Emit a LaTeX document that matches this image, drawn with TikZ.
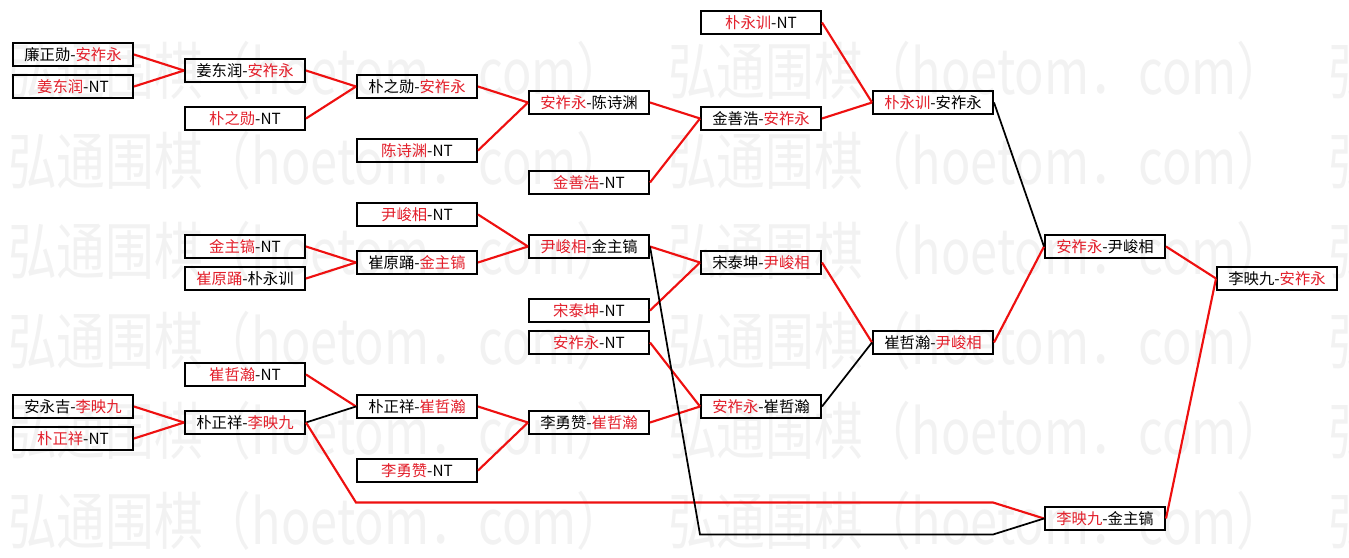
\documentclass[tikz,border=0pt]{standalone}
\usepackage{fontspec}
\setmainfont{Noto Sans CJK SC}
\definecolor{namered}{RGB}{226,30,42}
\definecolor{linkred}{RGB}{238,16,16}
\newcommand{\rd}[1]{\textcolor{namered}{#1}}

\begin{document}
\begin{tikzpicture}[x=0.75pt, y=-0.75pt,
  every node/.style = {shape=rectangle, draw, line width=1.5pt,
    minimum width=90pt, minimum height=17.5pt, inner sep=0pt,
    font=\fontsize{11.5}{13}\selectfont},
  wmark/.style = {draw=none, text=black!5, minimum width=0pt,
    minimum height=0pt, inner sep=0pt, anchor=north west},
  redlink/.style = {draw=linkred, line width=1.6pt},
  blacklink/.style = {draw=black, line width=1.3pt}]
  \useasboundingbox (0,0) rectangle (1349,557);
  % watermark
  \foreach \y in {40,130,...,490}
    \foreach \x in {7,667,1327}
      \node[wmark] at (\x,\y) {\resizebox{463pt}{40pt}{弘通围棋（hoetom．com）}};

  % first round
  \node (a1) at (73,54.5)  {廉正勋-\rd{安祚永}};
  \node (a2) at (73,86.5)  {\rd{姜东润}-NT};
  \node (a3) at (73,406.5) {安永吉-\rd{李映九}};
  \node (a4) at (73,438.5) {\rd{朴正祥}-NT};

  \node (b1) at (245,70.5)  {姜东润-\rd{安祚永}};
  \node (b2) at (245,118.5) {\rd{朴之勋}-NT};
  \node (b3) at (245,246.5) {\rd{金主镐}-NT};
  \node (b4) at (245,278.5) {\rd{崔原踊}-朴永训};
  \node (b5) at (245,374.5) {\rd{崔哲瀚}-NT};
  \node (b6) at (245,422.5) {朴正祥-\rd{李映九}};

  \node (c1) at (417,86.5)  {朴之勋-\rd{安祚永}};
  \node (c2) at (417,150.5) {\rd{陈诗渊}-NT};
  \node (c3) at (417,214.5) {\rd{尹峻相}-NT};
  \node (c4) at (417,262.5) {崔原踊-\rd{金主镐}};
  \node (c5) at (417,406.5) {朴正祥-\rd{崔哲瀚}};
  \node (c6) at (417,470.5) {\rd{李勇赞}-NT};

  \node (d1) at (589,102.5) {\rd{安祚永}-陈诗渊};
  \node (d2) at (589,182.5) {\rd{金善浩}-NT};
  \node (d3) at (589,246.5) {\rd{尹峻相}-金主镐};
  \node (d4) at (589,310.5) {\rd{宋泰坤}-NT};
  \node (d5) at (589,342.5) {\rd{安祚永}-NT};
  \node (d6) at (589,422.5) {李勇赞-\rd{崔哲瀚}};

  \node (e1) at (761,22.5)  {\rd{朴永训}-NT};
  \node (e2) at (761,118.5) {金善浩-\rd{安祚永}};
  \node (e3) at (761,262.5) {宋泰坤-\rd{尹峻相}};
  \node (e4) at (761,406.5) {\rd{安祚永}-崔哲瀚};

  \node (f1) at (933,102.5) {\rd{朴永训}-安祚永};
  \node (f2) at (933,342.5) {崔哲瀚-\rd{尹峻相}};

  \node (g1) at (1105,246.5) {\rd{安祚永}-尹峻相};
  \node (g2) at (1105,518.5) {\rd{李映九}-金主镐};

  \node (h1) at (1277,278.5) {李映九-\rd{安祚永}};

  % links
  \foreach \s/\t in {a1/b1, a2/b1, b1/c1, b2/c1, c1/d1, c2/d1, d1/e2, d2/e2,
      e1/f1, e2/f1, f2/g1, g1/h1, g2/h1, b3/c4, b4/c4, c3/d3, c4/d3,
      d3/e3, d4/e3, e3/f2, d5/e4, d6/e4, a3/b6, a4/b6, b5/c5, c5/d6, c6/d6}
    \draw[redlink] (\s.east) -- (\t.west);
  \foreach \s/\t in {f1/g1, e4/f2, b6/c5}
    \draw[blacklink] (\s.east) -- (\t.west);

  % second chance
  \coordinate (r1) at (356,502.5);
  \coordinate (r2) at (993,502.5);
  \coordinate (k1) at (700,534.5);
  \coordinate (k2) at (993,534.5);
  \draw[redlink] (b6.east) -- (r1) -- (r2) -- (g2.west);
  \draw[blacklink] (d3.east) -- (k1) -- (k2) -- (g2.west);
\end{tikzpicture}
\end{document}
